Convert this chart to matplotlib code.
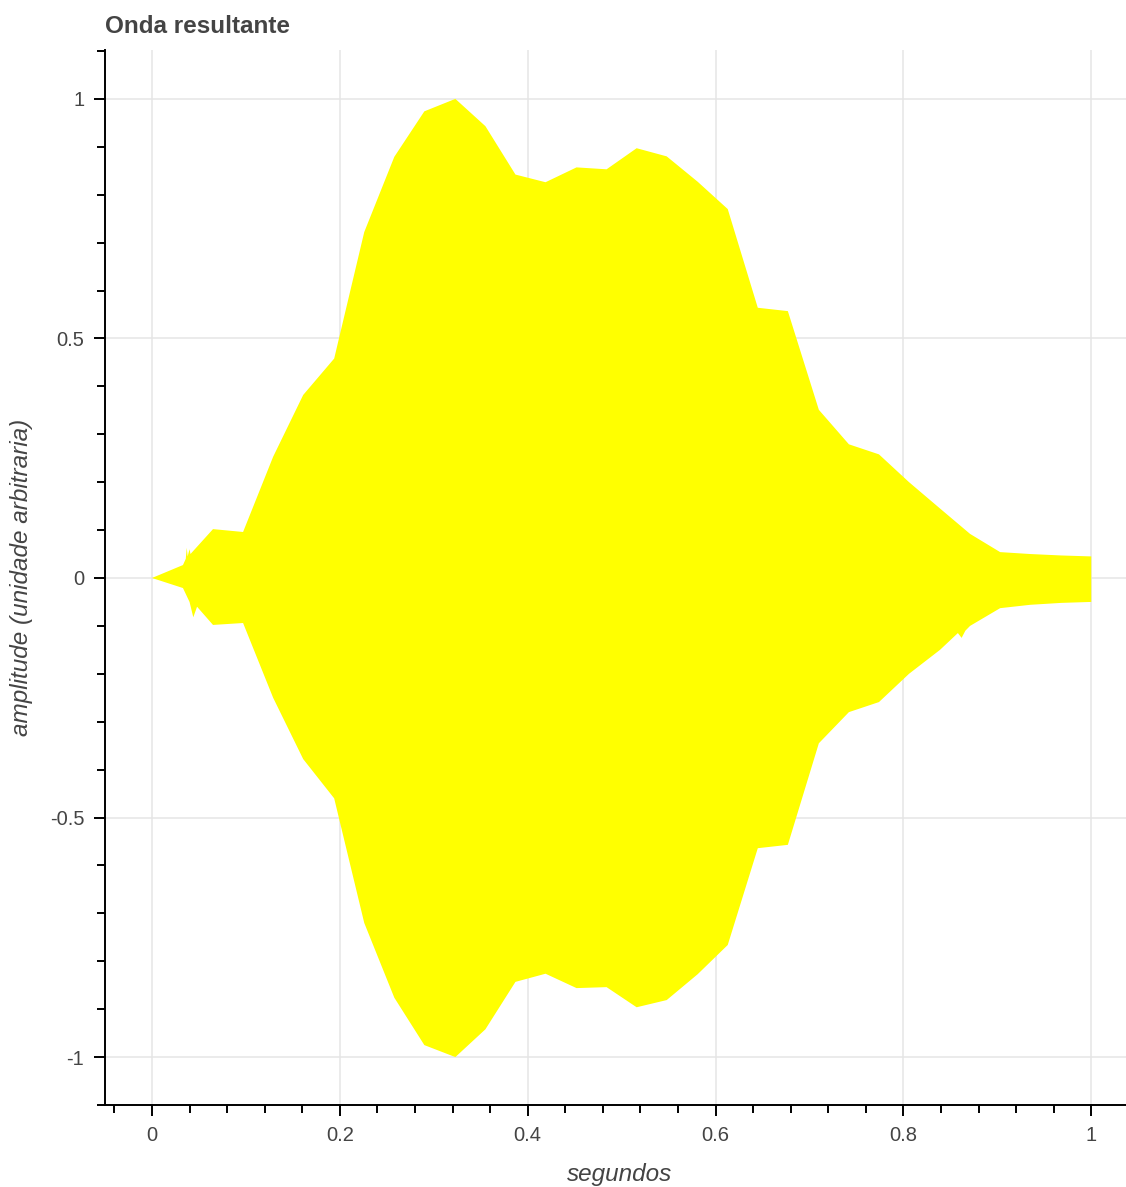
# envelope of the resulting wave, drawn as a filled band

import numpy as np
import matplotlib.pyplot as plt
from matplotlib.ticker import MultipleLocator, FuncFormatter

# upper edge of the wave (seconds, amplitude)
t_upper = [0, 0.033, 0.036, 0.037, 0.038, 0.040, 0.041, 0.065, 0.097,
           0.129, 0.161, 0.194, 0.226, 0.258, 0.290, 0.323, 0.355, 0.387,
           0.419, 0.452, 0.484, 0.516, 0.548, 0.581, 0.613, 0.645, 0.677,
           0.710, 0.742, 0.774, 0.806, 0.839, 0.871, 0.903, 0.935, 0.968, 1.0]
upper = [0, 0.027, 0.040, 0.063, 0.045, 0.060, 0.050, 0.102, 0.096,
         0.253, 0.382, 0.458, 0.722, 0.879, 0.974, 1.0, 0.943, 0.842,
         0.826, 0.857, 0.853, 0.897, 0.880, 0.827, 0.770, 0.564, 0.557,
         0.351, 0.279, 0.258, 0.200, 0.145, 0.092, 0.054, 0.050, 0.047, 0.045]

# lower edge of the wave
t_lower = [0, 0.033, 0.040, 0.044, 0.048, 0.065, 0.097, 0.129, 0.161,
           0.194, 0.226, 0.258, 0.290, 0.323, 0.355, 0.387, 0.419, 0.452,
           0.484, 0.516, 0.548, 0.581, 0.613, 0.645, 0.677, 0.710, 0.742,
           0.774, 0.806, 0.839, 0.858, 0.862, 0.866, 0.871, 0.903, 0.935,
           0.968, 1.0]
lower = [0, -0.021, -0.050, -0.082, -0.060, -0.098, -0.094, -0.250, -0.378,
         -0.460, -0.720, -0.876, -0.975, -1.0, -0.942, -0.843, -0.826, -0.856,
         -0.854, -0.896, -0.881, -0.827, -0.766, -0.564, -0.557, -0.345, -0.280,
         -0.259, -0.200, -0.150, -0.115, -0.125, -0.110, -0.100, -0.063, -0.056,
         -0.052, -0.050]

text_color = '#444444'
plt.rcParams['font.family'] = ['Liberation Sans', 'DejaVu Sans']

fig = plt.figure(figsize=(11.26, 11.87), dpi=100)
ax = fig.add_axes([105 / 1126, 1 - 1105 / 1187, 1021 / 1126, 1055 / 1187])

xs = np.concatenate([t_upper, t_lower[::-1]])
ys = np.concatenate([upper, lower[::-1]])
ax.fill(xs, ys, color='#ffff00', linewidth=0, zorder=2)

ax.set_xlim(-0.05, 1.037)
ax.set_ylim(-1.1, 1.102)

ax.xaxis.set_major_locator(MultipleLocator(0.2))
ax.xaxis.set_minor_locator(MultipleLocator(0.04))
ax.yaxis.set_major_locator(MultipleLocator(0.5))
ax.yaxis.set_minor_locator(MultipleLocator(0.1))
fmt = FuncFormatter(lambda v, pos: '%g' % round(v, 3))
ax.xaxis.set_major_formatter(fmt)
ax.yaxis.set_major_formatter(fmt)

ax.grid(True, which='major', color='#e5e5e5', linewidth=1.1)
ax.set_axisbelow(True)

for side in ('top', 'right'):
    ax.spines[side].set_visible(False)
for side in ('left', 'bottom'):
    ax.spines[side].set_linewidth(1.4)
    ax.spines[side].set_color('black')

ax.tick_params(which='major', direction='out', length=8, width=1.4,
               color='black', labelsize=14.5, labelcolor=text_color, pad=7)
ax.tick_params(which='minor', direction='out', length=5.5, width=1.4,
               color='black')

ax.set_title('Onda resultante', loc='left', fontsize=17.5,
             fontweight='bold', color=text_color, pad=12)
fig.text(22 / 1126, 1 - 577 / 1187, 'amplitude (unidade arbitraria)',
         rotation=90, ha='center', va='center', fontsize=17.5,
         style='italic', color=text_color)
fig.text(620 / 1126, 1 - 1175 / 1187, 'segundos', ha='center',
         va='center', fontsize=17.5, style='italic', color=text_color)

plt.savefig('out.png', dpi=100)
